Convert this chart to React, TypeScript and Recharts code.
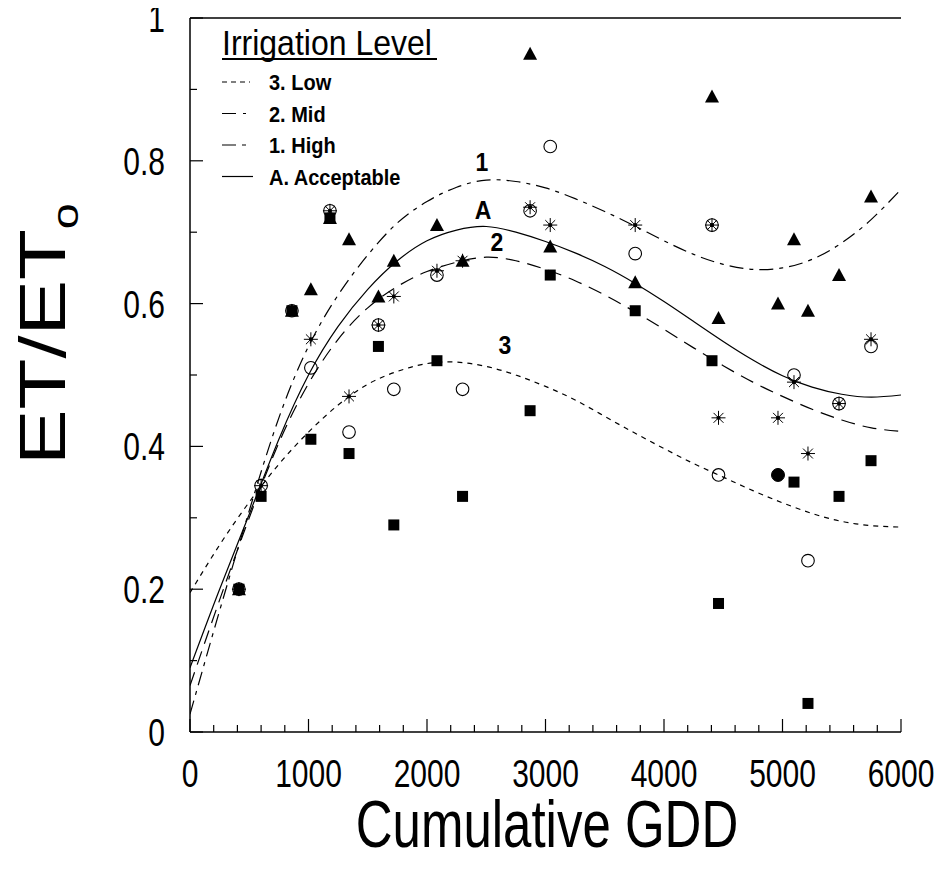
import React from 'react';
import { ComposedChart, Line, Scatter, XAxis, YAxis, ReferenceLine, Customized } from 'recharts';

const FONT = '"Liberation Sans", Arial, Helvetica, sans-serif';

// Fitted curves
const curveGdd = [0, 250, 500, 750, 1000, 1250, 1500, 1750, 2000, 2250, 2500, 2750, 3000, 3250, 3500, 3750, 4000, 4250, 4500, 4750, 5000, 5250, 5500, 5750, 6000];
const lowCurve = [0.195, 0.262, 0.322, 0.375, 0.42, 0.458, 0.487, 0.505, 0.516, 0.518, 0.512, 0.5, 0.484, 0.465, 0.442, 0.419, 0.397, 0.376, 0.357, 0.338, 0.321, 0.306, 0.295, 0.289, 0.287];
const midCurve = [0.065, 0.185, 0.3, 0.405, 0.488, 0.55, 0.594, 0.624, 0.645, 0.658, 0.665, 0.66, 0.648, 0.632, 0.612, 0.589, 0.564, 0.538, 0.513, 0.49, 0.47, 0.452, 0.437, 0.426, 0.421];
const highCurve = [0.025, 0.17, 0.31, 0.44, 0.54, 0.612, 0.668, 0.713, 0.743, 0.763, 0.773, 0.771, 0.762, 0.747, 0.729, 0.709, 0.688, 0.669, 0.655, 0.648, 0.65, 0.662, 0.685, 0.718, 0.76];
const acceptCurve = [0.09, 0.2, 0.305, 0.41, 0.5, 0.568, 0.62, 0.66, 0.688, 0.703, 0.708, 0.7, 0.687, 0.671, 0.652, 0.629, 0.603, 0.575, 0.547, 0.521, 0.499, 0.483, 0.473, 0.469, 0.472];

// Observations
const trianglePoints = [
  { gdd: 413, et: 0.2 }, { gdd: 860, et: 0.59 }, { gdd: 1020, et: 0.62 }, { gdd: 1181, et: 0.72 },
  { gdd: 1342, et: 0.69 }, { gdd: 1590, et: 0.61 }, { gdd: 1720, et: 0.66 }, { gdd: 2084, et: 0.71 },
  { gdd: 2300, et: 0.66 }, { gdd: 2870, et: 0.95 }, { gdd: 3040, et: 0.68 }, { gdd: 3757, et: 0.63 },
  { gdd: 4405, et: 0.89 }, { gdd: 4460, et: 0.58 }, { gdd: 4962, et: 0.6 }, { gdd: 5097, et: 0.69 },
  { gdd: 5215, et: 0.59 }, { gdd: 5477, et: 0.64 }, { gdd: 5747, et: 0.75 },
];
const circlePoints = [
  { gdd: 413, et: 0.2 }, { gdd: 600, et: 0.345 }, { gdd: 860, et: 0.59 }, { gdd: 1020, et: 0.51 },
  { gdd: 1181, et: 0.73 }, { gdd: 1342, et: 0.42 }, { gdd: 1590, et: 0.57 }, { gdd: 1720, et: 0.48 },
  { gdd: 2084, et: 0.64 }, { gdd: 2300, et: 0.48 }, { gdd: 2870, et: 0.73 }, { gdd: 3040, et: 0.82 },
  { gdd: 3757, et: 0.67 }, { gdd: 4405, et: 0.71 }, { gdd: 4460, et: 0.36 }, { gdd: 5097, et: 0.5 },
  { gdd: 5215, et: 0.24 }, { gdd: 5477, et: 0.46 }, { gdd: 5747, et: 0.54 },
];
const filledCirclePoints = [{ gdd: 4962, et: 0.36 }];
const asteriskPoints = [
  { gdd: 413, et: 0.2 }, { gdd: 600, et: 0.345 }, { gdd: 1020, et: 0.55 }, { gdd: 1181, et: 0.73 },
  { gdd: 1342, et: 0.47 }, { gdd: 1590, et: 0.57 }, { gdd: 1720, et: 0.61 }, { gdd: 2084, et: 0.646 },
  { gdd: 2300, et: 0.66 }, { gdd: 2870, et: 0.735 }, { gdd: 3040, et: 0.71 }, { gdd: 3757, et: 0.71 },
  { gdd: 4405, et: 0.71 }, { gdd: 4460, et: 0.44 }, { gdd: 4962, et: 0.44 }, { gdd: 5097, et: 0.49 },
  { gdd: 5215, et: 0.39 }, { gdd: 5477, et: 0.46 }, { gdd: 5747, et: 0.55 },
];
const squarePoints = [
  { gdd: 413, et: 0.2 }, { gdd: 600, et: 0.33 }, { gdd: 860, et: 0.59 }, { gdd: 1020, et: 0.41 },
  { gdd: 1181, et: 0.72 }, { gdd: 1342, et: 0.39 }, { gdd: 1590, et: 0.54 }, { gdd: 1720, et: 0.29 },
  { gdd: 2084, et: 0.52 }, { gdd: 2300, et: 0.33 }, { gdd: 2870, et: 0.45 }, { gdd: 3040, et: 0.64 },
  { gdd: 3757, et: 0.59 }, { gdd: 4405, et: 0.52 }, { gdd: 4460, et: 0.18 }, { gdd: 5097, et: 0.35 },
  { gdd: 5215, et: 0.04 }, { gdd: 5477, et: 0.33 }, { gdd: 5747, et: 0.38 },
];

const xTicks = [0, 200, 400, 600, 800, 1000, 1200, 1400, 1600, 1800, 2000, 2200, 2400, 2600, 2800, 3000, 3200, 3400, 3600, 3800, 4000, 4200, 4400, 4600, 4800, 5000, 5200, 5400, 5600, 5800, 6000];
const xMajorTicks = [0, 1000, 2000, 3000, 4000, 5000, 6000];
const yTicks = [0, 0.1, 0.2, 0.3, 0.4, 0.5, 0.6, 0.7, 0.8, 0.9, 1];
const yMajorTicks = [0, 0.2, 0.4, 0.6, 0.8, 1];

const legendItems = [
  { label: '3. Low', dash: '5 4', len: 28 },
  { label: '2. Mid', dash: '14 7', len: 24 },
  { label: '1. High', dash: '14 6 4 6', len: 28 },
  { label: 'A. Acceptable', dash: undefined, len: 31 },
];

const curveLabels = [
  { text: '1', x: 474, y: 164 },
  { text: 'A', x: 475, y: 212 },
  { text: '2', x: 489, y: 244 },
  { text: '3', x: 497, y: 347 },
];

const curveTable = curveGdd.map((g, i) => ({
  gdd: g,
  low: lowCurve[i],
  mid: midCurve[i],
  high: highCurve[i],
  accept: acceptCurve[i],
}));

const STRETCH = 1.3;

const XTick = (props: any) => {
  const { x, y, payload } = props;
  const major = xMajorTicks.includes(payload.value);
  return (
    <g>
      <line x1={x} x2={x} y1={y} y2={y - (major ? 13 : 7)} stroke="#000" strokeWidth={1.2} />
      {major && (
        <text transform={`translate(${x},${y + 55}) scale(1,${STRETCH})`} textAnchor="middle" fontSize={30} fontFamily={FONT} fill="#000">
          {payload.value}
        </text>
      )}
    </g>
  );
};

const YTick = (props: any) => {
  const { x, y, payload } = props;
  const major = yMajorTicks.includes(payload.value);
  return (
    <g>
      <line x1={x} x2={x + (major ? 13 : 7)} y1={y} y2={y} stroke="#000" strokeWidth={1.2} />
      {major && (
        <text transform={`translate(${x - 25},${y + 14}) scale(1,${STRETCH})`} textAnchor="end" fontSize={30} fontFamily={FONT} fill="#000">
          {String(payload.value)}
        </text>
      )}
    </g>
  );
};

const Triangle = (p: any) => {
  const { cx, cy } = p;
  if (cx == null || cy == null) return null;
  return <path d={`M${cx - 7},${cy + 6} L${cx + 7},${cy + 6} L${cx},${cy - 7} Z`} fill="#000" />;
};
const Square = (p: any) => {
  const { cx, cy } = p;
  if (cx == null || cy == null) return null;
  return <rect x={cx - 5.5} y={cy - 5.5} width={11} height={11} fill="#000" />;
};
const OpenCircle = (p: any) => {
  const { cx, cy } = p;
  if (cx == null || cy == null) return null;
  return <circle cx={cx} cy={cy} r={6.3} fill="none" stroke="#000" strokeWidth={1.1} />;
};
const FilledCircle = (p: any) => {
  const { cx, cy } = p;
  if (cx == null || cy == null) return null;
  return <circle cx={cx} cy={cy} r={6.5} fill="#000" stroke="#000" strokeWidth={1} />;
};
const Asterisk = (p: any) => {
  const { cx, cy } = p;
  if (cx == null || cy == null) return null;
  const r = 7;
  const d = r * 0.7071;
  return (
    <g stroke="#000" strokeWidth={1}>
      <line x1={cx} y1={cy - r} x2={cx} y2={cy + r} />
      <line x1={cx - r} y1={cy} x2={cx + r} y2={cy} />
      <line x1={cx - d} y1={cy - d} x2={cx + d} y2={cy + d} />
      <line x1={cx - d} y1={cy + d} x2={cx + d} y2={cy - d} />
      <circle cx={cx} cy={cy} r={1.6} fill="#000" />
    </g>
  );
};

const Annotations = () => (
  <g fontFamily={FONT} fill="#000">
    {/* Legend */}
    <text transform="translate(214,57) scale(0.97,1.05)" fontSize={33}>Irrigation Level</text>
    <line x1={214} x2={429} y1={61} y2={61} stroke="#000" strokeWidth={2} />
    {legendItems.map((it, i) => (
      <g key={it.label}>
        <line x1={214} x2={214 + it.len} y1={84 + i * 31.5} y2={84 + i * 31.5} stroke="#000" strokeWidth={1.2} strokeDasharray={it.dash} />
        <text transform={`translate(261,${92 + i * 31.5}) scale(1,1.08)`} fontSize={20} fontWeight="bold">{it.label}</text>
      </g>
    ))}
    {/* Curve labels */}
    {curveLabels.map((c) => (
      <text key={c.text} transform={`translate(${c.x},${c.y + 9}) scale(1,1.1)`} fontSize={23} fontWeight="bold" textAnchor="middle">{c.text}</text>
    ))}
    {/* Axis titles */}
    <text transform={`translate(539,849) scale(1,${STRETCH})`} fontSize={51} textAnchor="middle">Cumulative GDD</text>
    <text transform={`translate(57,336) scale(1,${STRETCH}) rotate(-90)`} fontSize={64} textAnchor="middle">
      ET/ET<tspan fontSize={36} dy={13}>o</tspan>
    </text>
  </g>
);

export default function App() {
  return (
    <div style={{ marginTop: -10 }}>
      <ComposedChart
        width={935}
        height={880}
        data={curveTable}
        margin={{ top: 20, right: 42, left: 0, bottom: 0 }}
        style={{ background: '#fff' }}
      >
        <XAxis
          type="number"
          dataKey="gdd"
          domain={[0, 6000]}
          ticks={xTicks}
          interval={0}
          height={146}
          tickSize={0}
          tickMargin={0}
          tickLine={false}
          tick={<XTick />}
          axisLine={{ stroke: '#000', strokeWidth: 1.5 }}
          allowDataOverflow
        />
        <YAxis
          type="number"
          domain={[0, 1]}
          ticks={yTicks}
          interval={0}
          width={182}
          tickSize={0}
          tickMargin={0}
          tickLine={false}
          tick={<YTick />}
          axisLine={{ stroke: '#000', strokeWidth: 1.5 }}
          allowDataOverflow
        />
        <ReferenceLine y={1} stroke="#000" strokeWidth={1.5} />
        <Line type="natural" dataKey="low" stroke="#000" strokeWidth={1.2} strokeDasharray="5 5" dot={false} activeDot={false} isAnimationActive={false} />
        <Line type="natural" dataKey="mid" stroke="#000" strokeWidth={1.2} strokeDasharray="14 8" dot={false} activeDot={false} isAnimationActive={false} />
        <Line type="natural" dataKey="high" stroke="#000" strokeWidth={1.2} strokeDasharray="14 6 4 6" dot={false} activeDot={false} isAnimationActive={false} />
        <Line type="natural" dataKey="accept" stroke="#000" strokeWidth={1.2} dot={false} activeDot={false} isAnimationActive={false} />
        <Scatter data={squarePoints} dataKey="et" shape={<Square />} isAnimationActive={false} />
        <Scatter data={trianglePoints} dataKey="et" shape={<Triangle />} isAnimationActive={false} />
        <Scatter data={filledCirclePoints} dataKey="et" shape={<FilledCircle />} isAnimationActive={false} />
        <Scatter data={circlePoints} dataKey="et" shape={<OpenCircle />} isAnimationActive={false} />
        <Scatter data={asteriskPoints} dataKey="et" shape={<Asterisk />} isAnimationActive={false} />
        <Customized component={<Annotations />} />
      </ComposedChart>
    </div>
  );
}
